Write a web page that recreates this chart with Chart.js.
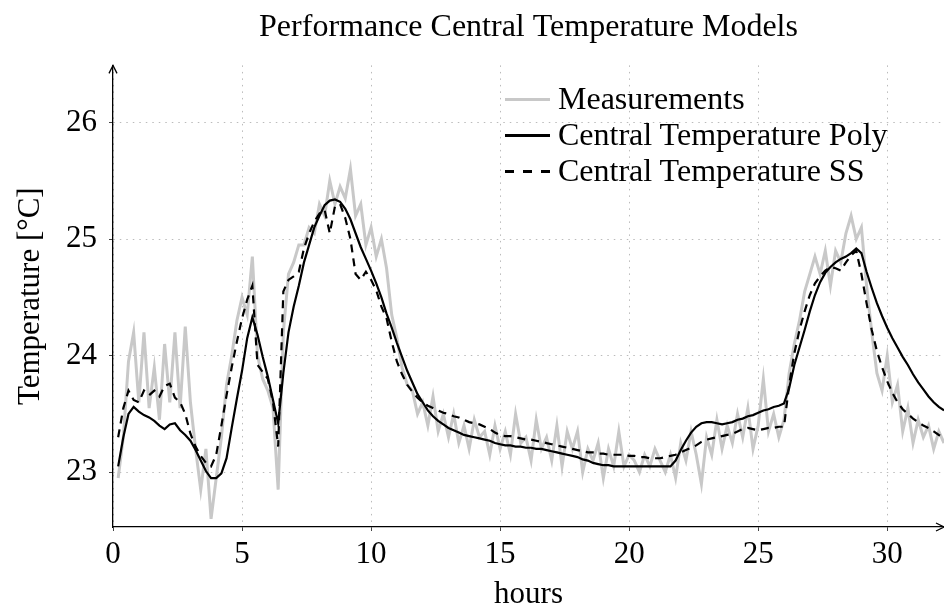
<!DOCTYPE html>
<html>
<head>
<meta charset="utf-8">
<script src="https://cdn.jsdelivr.net/npm/chart.js@4.4.1/dist/chart.umd.min.js"></script>
<style>
  body { margin: 0; background: #fff; overflow: hidden; }
  #wrap { position: relative; width: 944px; height: 615px; }
  #legend { position: absolute; left: 505px; top: 80px; font-family: "Liberation Serif", serif; font-size: 32px; color: #000; }
  #legend .row { height: 36px; line-height: 36px; white-space: nowrap; }
  #legend .swatch { display: inline-block; width: 45px; height: 3px; vertical-align: middle; margin-right: 8px; position: relative; top: -2px; }
</style>
</head>
<body>
<div id="wrap">
  <canvas id="chart" width="944" height="615"></canvas>
  <div id="legend">
    <div class="row"><span class="swatch" style="background:#c8c8c8;height:3px"></span>Measurements</div>
    <div class="row"><span class="swatch" style="background:#000;height:2.4px"></span>Central Temperature Poly</div>
    <div class="row"><span class="swatch" style="height:2.4px;background:repeating-linear-gradient(to right,#000 0 9px,transparent 9px 18px)"></span>Central Temperature SS</div>
  </div>
</div>
<script>
// samples every 0.2 h, starting at 0.2 h
const firstHour = 0.2;
const stepHours = 0.2;

const measured = [
  22.95, 23.30, 23.95, 24.20, 23.60, 24.20, 23.55, 23.90, 23.45, 24.10,
  23.60, 24.20, 23.55, 24.25, 23.60, 23.20, 22.85, 23.20, 22.60, 22.95,
  23.30, 23.75, 24.00, 24.30, 24.50, 24.35, 24.85, 24.00, 23.80, 23.70,
  23.55, 22.85, 24.20, 24.70, 24.80, 24.95, 24.95, 25.10, 25.05, 25.30,
  25.20, 25.50, 25.30, 25.45, 25.35, 25.60, 25.20, 25.30, 24.95, 25.10,
  24.85, 25.00, 24.75, 24.35, 24.15, 23.90, 23.75, 23.70, 23.50, 23.60,
  23.40, 23.65, 23.35, 23.50, 23.30, 23.50, 23.25, 23.40, 23.20, 23.45,
  23.30, 23.35, 23.15, 23.40, 23.20, 23.35, 23.15, 23.50, 23.25, 23.30,
  23.10, 23.45, 23.20, 23.30, 23.10, 23.40, 23.05, 23.35, 23.20, 23.35,
  23.00, 23.20, 23.10, 23.25, 22.95, 23.20, 23.05, 23.35, 23.05, 23.15,
  23.10, 23.00, 23.15, 23.05, 23.20, 23.10, 23.00, 23.15, 22.95, 23.25,
  23.10, 23.35, 23.15, 22.90, 23.30, 23.15, 23.45, 23.20, 23.40, 23.25,
  23.50, 23.30, 23.55, 23.20, 23.40, 23.80, 23.35, 23.50, 23.30, 23.45,
  23.85, 24.10, 24.30, 24.55, 24.70, 24.85, 24.70, 24.90, 24.60, 24.90,
  24.80, 25.05, 25.20, 25.00, 25.10, 24.60, 24.20, 23.85, 23.70, 24.00,
  23.60, 23.75, 23.35, 23.55, 23.25, 23.45, 23.30, 23.40, 23.20, 23.35,
  23.25
];

const polyModel = [
  23.05, 23.30, 23.50, 23.56, 23.52, 23.49, 23.47, 23.44, 23.40, 23.37,
  23.41, 23.42, 23.36, 23.32, 23.27, 23.19, 23.10, 23.01, 22.95, 22.95,
  22.99, 23.12, 23.38, 23.63, 23.87, 24.15, 24.33, 24.18, 23.99, 23.82,
  23.62, 23.42, 23.85, 24.20, 24.42, 24.60, 24.80, 24.95, 25.10, 25.20,
  25.29, 25.33, 25.34, 25.32, 25.26, 25.17, 25.05, 24.93, 24.83, 24.73,
  24.62, 24.50, 24.36, 24.24, 24.11, 23.99, 23.87, 23.77, 23.67, 23.60,
  23.53, 23.48, 23.44, 23.41, 23.38, 23.36, 23.34, 23.32, 23.31, 23.30,
  23.29, 23.28, 23.27, 23.25, 23.24, 23.23, 23.23, 23.22, 23.22, 23.21,
  23.21, 23.20, 23.20, 23.19, 23.18, 23.17, 23.16, 23.15, 23.14, 23.13,
  23.11, 23.10, 23.08, 23.07, 23.06, 23.06, 23.05, 23.05, 23.05, 23.05,
  23.05, 23.05, 23.05, 23.05, 23.05, 23.05, 23.05, 23.05, 23.10, 23.19,
  23.27, 23.34, 23.39, 23.42, 23.43, 23.43, 23.42, 23.41, 23.42, 23.43,
  23.45, 23.46, 23.48, 23.49, 23.51, 23.53, 23.54, 23.56, 23.57, 23.59,
  23.72, 23.92, 24.07, 24.22, 24.38, 24.52, 24.63, 24.71, 24.76, 24.80,
  24.83, 24.85, 24.88, 24.92, 24.88, 24.72, 24.58, 24.45, 24.34, 24.24,
  24.15, 24.07, 23.99, 23.92, 23.84, 23.77, 23.71, 23.65, 23.60, 23.56,
  23.53
];

const ssModel = [
  23.30, 23.55, 23.70, 23.62, 23.60, 23.70, 23.66, 23.70, 23.65, 23.74,
  23.76, 23.64, 23.60, 23.50, 23.33, 23.22, 23.14, 23.08, 23.05, 23.15,
  23.40, 23.66, 23.90, 24.12, 24.32, 24.48, 24.60, 23.92, 23.86, 23.80,
  23.60, 23.22, 24.55, 24.65, 24.68, 24.72, 24.92, 25.05, 25.15, 25.22,
  25.25, 25.05, 25.28, 25.30, 25.18, 25.00, 24.70, 24.65, 24.72, 24.65,
  24.56, 24.42, 24.32, 24.12, 23.95, 23.84, 23.75, 23.69, 23.64, 23.60,
  23.57, 23.55, 23.53, 23.51, 23.50, 23.48, 23.47, 23.45, 23.43, 23.42,
  23.41, 23.39, 23.37, 23.34, 23.32, 23.31, 23.31, 23.30, 23.29, 23.28,
  23.28, 23.27, 23.26, 23.25, 23.24, 23.23, 23.22, 23.21, 23.20, 23.19,
  23.18, 23.17, 23.17, 23.16, 23.16, 23.15, 23.15, 23.15, 23.15, 23.14,
  23.14, 23.13, 23.13, 23.12, 23.12, 23.12, 23.13, 23.14, 23.15, 23.17,
  23.19, 23.21, 23.23, 23.26, 23.28, 23.29, 23.30, 23.31, 23.32, 23.33,
  23.35, 23.37, 23.38, 23.37, 23.36, 23.37, 23.38, 23.38, 23.39, 23.39,
  23.75, 24.02, 24.22, 24.38, 24.52, 24.62, 24.68, 24.73, 24.76, 24.75,
  24.73, 24.80, 24.86, 24.90, 24.70, 24.45, 24.22, 24.04, 23.90, 23.78,
  23.68, 23.60, 23.54, 23.50, 23.46, 23.43, 23.40, 23.38, 23.35, 23.32,
  23.30
];

const xTicks = [0, 5, 10, 15, 20, 25, 30];
const yTicks = [23, 24, 25, 26];

const hours = measured.map((_, i) => +(firstHour + i * stepHours).toFixed(1));
const toPoints = vals => vals.map((v, i) => ({ x: hours[i], y: v }));

const serif = '"Liberation Serif", "Times New Roman", serif';

// arrow heads at the ends of the axis lines
const axisArrows = {
  id: 'axisArrows',
  afterDraw(chart) {
    const { ctx, chartArea: a } = chart;
    ctx.save();
    ctx.strokeStyle = '#000';
    ctx.lineWidth = 1.3;
    ctx.beginPath();
    ctx.moveTo(a.left - 4, a.top + 8);
    ctx.lineTo(a.left, a.top);
    ctx.lineTo(a.left + 4, a.top + 8);
    ctx.moveTo(a.right - 8, a.bottom - 4);
    ctx.lineTo(a.right, a.bottom);
    ctx.lineTo(a.right - 8, a.bottom + 4);
    ctx.stroke();
    ctx.restore();
  }
};

new Chart(document.getElementById('chart'), {
  type: 'line',
  data: {
    datasets: [
      {
        label: 'Measurements',
        data: toPoints(measured),
        borderColor: '#c8c8c8',
        borderWidth: 3,
        pointRadius: 0,
        tension: 0,
        order: 3
      },
      {
        label: 'Central Temperature Poly',
        data: toPoints(polyModel),
        borderColor: '#000',
        borderWidth: 2.2,
        pointRadius: 0,
        tension: 0,
        order: 2
      },
      {
        label: 'Central Temperature SS',
        data: toPoints(ssModel),
        borderColor: '#000',
        borderWidth: 2.2,
        borderDash: [8, 6],
        pointRadius: 0,
        tension: 0,
        order: 1
      }
    ]
  },
  options: {
    responsive: false,
    animation: false,
    layout: { padding: 0 },
    plugins: {
      legend: { display: false },
      tooltip: { enabled: false },
      title: {
        display: true,
        fullSize: false,
        text: 'Performance Central Temperature Models',
        color: '#000',
        font: { family: serif, size: 32, weight: 'normal' },
        padding: { top: 8, bottom: 19 }
      }
    },
    scales: {
      x: {
        type: 'linear',
        min: 0,
        max: 32.2,
        afterBuildTicks: s => { s.ticks = xTicks.map(v => ({ value: v })); },
        afterFit: s => { s.height = 88; },
        ticks: { color: '#000', font: { family: serif, size: 31 }, padding: 5, maxRotation: 0 },
        grid: { color: '#bbbbbb', lineWidth: 1, tickLength: 4, tickColor: '#444', tickBorderDash: [] },
        border: { display: true, color: '#000', width: 1.3, dash: [1.5, 5] },
        title: {
          display: true,
          text: 'hours',
          color: '#000',
          font: { family: serif, size: 31 },
          padding: { top: 0, bottom: 2 }
        }
      },
      y: {
        min: 22.53,
        max: 26.49,
        afterBuildTicks: s => { s.ticks = yTicks.map(v => ({ value: v })); },
        afterFit: s => { s.width = 113; },
        ticks: { color: '#000', font: { family: serif, size: 31 }, padding: 12 },
        grid: { color: '#bbbbbb', lineWidth: 1, tickLength: 4, tickColor: '#444', tickBorderDash: [] },
        border: { display: true, color: '#000', width: 1.3, dash: [1.5, 5] },
        title: {
          display: true,
          text: 'Temperature [°C]',
          color: '#000',
          font: { family: serif, size: 31 },
          padding: { top: 12, bottom: 0 }
        }
      }
    }
  },
  plugins: [axisArrows]
});
</script>
</body>
</html>
